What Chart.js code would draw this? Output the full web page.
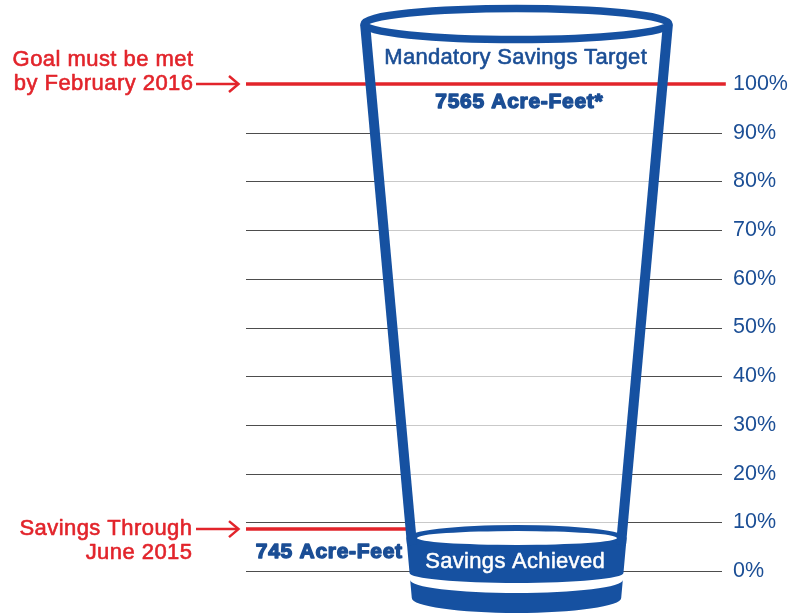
<!DOCTYPE html>
<html>
<head>
<meta charset="utf-8">
<script src="https://cdn.jsdelivr.net/npm/chart.js@4"></script>
<style>
  html, body { margin: 0; padding: 0; background: #ffffff; }
  #wrap { width: 793px; height: 614px; position: relative; }
</style>
</head>
<body>
<div id="wrap"><canvas id="c"></canvas></div>
<script>
// ---- data ----
const tickValues = [0, 10, 20, 30, 40, 50, 60, 70, 80, 90, 100];
const levelNames = ['Goal', 'Savings'];
const levelPercents = [100, 8.6];
const levelLabels = [['Goal must be met', 'by February 2016'], ['Savings Through', 'June 2015']];
const targetAcreFeet = 7565;
const savedAcreFeet = 745;
const titleText = 'Mandatory Savings Target';
const achievedText = 'Savings Achieved';

// ---- style ----
const RED = '#e2242b';
const BLUE = '#1651a1';
const TEXT_BLUE = '#1b4e95';
const FONT = '"Liberation Sans", Arial, Helvetica, sans-serif';

// glass geometry (decoration)
const G = { cx: 516.5, topY: 24, slope: 0.0901, cl: 365, y0: 23, wall: 10 };
const Lc = y => G.cl + (y - G.y0) * G.slope;
const Rc = y => 2 * G.cx - Lc(y);
const Lo = y => Lc(y) - G.wall / 2;
const Ro = y => Rc(y) + G.wall / 2;

const levelExtents = [[0, 1.008], [0, 0.34]];

const datasets = levelNames.map((n, i) => ({
  label: n,
  data: [{ x: levelExtents[i][0], y: levelPercents[i] }, { x: levelExtents[i][1], y: levelPercents[i] }],
  borderColor: RED,
  borderWidth: 3.5,
  pointRadius: 0,
  clip: false,
  borderCapStyle: 'butt'
}));

function drawText(ctx, text, x, y, o) {
  ctx.save();
  ctx.font = o.font;
  ctx.fillStyle = o.color;
  ctx.strokeStyle = o.color;
  ctx.textBaseline = 'middle';
  ctx.textAlign = 'left';
  if ('letterSpacing' in ctx) ctx.letterSpacing = (o.spacing || 0) + 'px';
  let w = ctx.measureText(text).width - (o.spacing || 0);
  let sx = x;
  if (o.align === 'center') sx = x - w / 2;
  else if (o.align === 'right') sx = x - w;
  ctx.fillText(text, sx, y);
  if (o.stroke) { ctx.lineWidth = o.stroke; ctx.lineJoin = 'round'; ctx.strokeText(text, sx, y); }
  ctx.restore();
}

const decor = {
  id: 'decor',
  beforeDatasetsDraw(chart) {
    const ctx = chart.ctx, ys = chart.scales.y, area = chart.chartArea;
    ctx.save();
    tickValues.forEach(v => {
      const y = Math.round(ys.getPixelForValue(v)) + 0.5;
      ctx.lineWidth = 1;
      ctx.strokeStyle = '#4d4d4d';
      ctx.beginPath(); ctx.moveTo(area.left, y); ctx.lineTo(area.right, y); ctx.stroke();
      ctx.strokeStyle = '#c9c9c9';
      ctx.beginPath(); ctx.moveTo(Lc(y), y); ctx.lineTo(Rc(y), y); ctx.stroke();
    });
    ctx.restore();
  },
  afterDatasetsDraw(chart) {
    const ctx = chart.ctx, ys = chart.scales.y;
    const cx = G.cx;
    ctx.save();
    // liquid
    const yLiq = 538, yLiqB = 573, yBaseT = 580, yBaseB = 598;
    ctx.fillStyle = BLUE;
    ctx.beginPath();
    ctx.moveTo(Lo(yLiq), yLiq);
    ctx.ellipse(cx, yLiq, (Ro(yLiq) - Lo(yLiq)) / 2, 13, 0, Math.PI, 2 * Math.PI, false);
    ctx.lineTo(Ro(yLiqB), yLiqB);
    ctx.ellipse(cx, yLiqB, (Ro(yLiqB) - Lo(yLiqB)) / 2, 10, 0, 0, Math.PI, false);
    ctx.closePath();
    ctx.fill();
    ctx.beginPath();
    ctx.moveTo(Lo(yBaseT), yBaseT);
    ctx.ellipse(cx, yBaseT, (Ro(yBaseT) - Lo(yBaseT)) / 2, 13, 0, Math.PI, 0, true);
    ctx.lineTo(Ro(yBaseB), yBaseB);
    ctx.ellipse(cx, yBaseB, (Ro(yBaseB) - Lo(yBaseB)) / 2, 15, 0, 0, Math.PI, false);
    ctx.closePath();
    ctx.fill();
    // walls
    ctx.strokeStyle = BLUE;
    ctx.lineWidth = G.wall;
    ctx.lineCap = 'butt';
    ctx.beginPath(); ctx.moveTo(Lc(G.topY), G.topY); ctx.lineTo(Lc(545), 545); ctx.stroke();
    ctx.beginPath(); ctx.moveTo(Rc(G.topY), G.topY); ctx.lineTo(Rc(545), 545); ctx.stroke();
    // white surface ellipse
    ctx.fillStyle = '#ffffff';
    ctx.beginPath(); ctx.ellipse(cx + 0.5, yLiq, 100, 7, 0, 0, 2 * Math.PI); ctx.fill();
    // top rim
    ctx.fillStyle = '#ffffff';
    ctx.strokeStyle = BLUE;
    ctx.lineWidth = 7.5;
    ctx.beginPath(); ctx.ellipse(cx, G.topY, 152.5, 15.5, 0, 0, 2 * Math.PI); ctx.fill(); ctx.stroke();
    ctx.restore();

    // texts
    const yGoal = ys.getPixelForValue(levelPercents[0]);
    const ySav = ys.getPixelForValue(levelPercents[1]);
    drawText(ctx, titleText, 515.5, yGoal - 26, { font: '22px ' + FONT, color: TEXT_BLUE, spacing: 0.3, stroke: 0.6, align: 'center' });
    drawText(ctx, targetAcreFeet + ' Acre-Feet*', 519, yGoal + 18, { font: 'bold 21px ' + FONT, color: TEXT_BLUE, spacing: 0.7, stroke: 1.4, align: 'center' });
    drawText(ctx, savedAcreFeet + ' Acre-Feet', 402, ySav + 23, { font: 'bold 21px ' + FONT, color: TEXT_BLUE, spacing: 0.7, stroke: 1.4, align: 'right' });
    drawText(ctx, achievedText, 515, 562, { font: '22px ' + FONT, color: '#ffffff', spacing: 0.3, stroke: 0.5, align: 'center' });

    // left labels with arrows
    ctx.save();
    levelPercents.forEach((p, i) => {
      const y = ys.getPixelForValue(p);
      const lines = levelLabels[i];
      const o = { font: '22px ' + FONT, color: RED, spacing: 0.45, stroke: 0.6, align: 'right' };
      if (i === 0) {
        drawText(ctx, lines[0], 193, y - 24, o);
        drawText(ctx, lines[1], 193, y, o);
      } else {
        drawText(ctx, lines[0], 192, y, o);
        drawText(ctx, lines[1], 192, y + 24, o);
      }
      ctx.strokeStyle = RED;
      ctx.lineWidth = 2.5;
      ctx.lineCap = 'butt';
      ctx.beginPath(); ctx.moveTo(196, y); ctx.lineTo(238, y); ctx.stroke();
      ctx.beginPath(); ctx.moveTo(229, y - 8); ctx.lineTo(238.5, y); ctx.lineTo(229, y + 8); ctx.stroke();
    });
    ctx.restore();
  }
};

new Chart(document.getElementById('c'), {
  type: 'line',
  data: { datasets },
  options: {
    responsive: true,
    maintainAspectRatio: false,
    animation: false,
    layout: { padding: { left: 246, top: 84, bottom: 43, right: 0 } },
    plugins: { legend: { display: false }, tooltip: { enabled: false } },
    scales: {
      x: { type: 'linear', min: 0, max: 1, display: false },
      y: {
        type: 'linear', position: 'right', min: 0, max: 100,
        afterBuildTicks(scale) { scale.ticks = tickValues.map(v => ({ value: v })); },
        afterFit(scale) { scale.width = 71; },
        grid: { display: false, drawTicks: false },
        border: { display: false },
        ticks: {
          padding: 11,
          color: TEXT_BLUE,
          font: { size: 21.5, family: FONT },
          callback: v => v + '%'
        }
      }
    }
  },
  plugins: [decor]
});
</script>
</body>
</html>
